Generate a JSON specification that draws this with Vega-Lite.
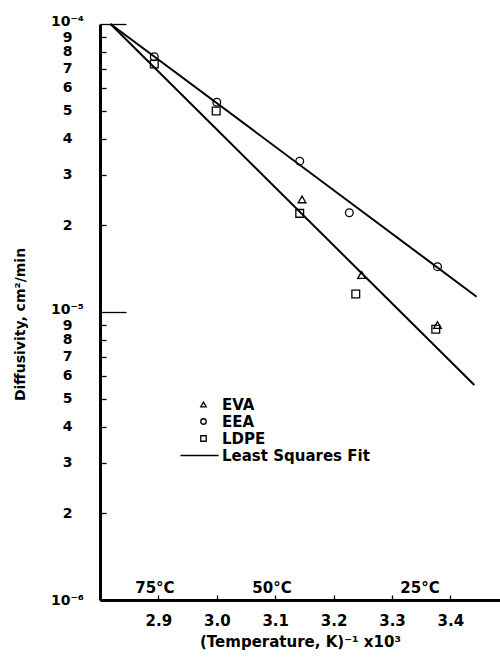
{
  "$schema": "https://vega.github.io/schema/vega-lite/v6.json",
  "width": 400,
  "height": 576,
  "autosize": {"type": "none"},
  "padding": {"left": 100, "top": 24, "right": 0, "bottom": 58},
  "background": "white",
  "config": {"view": {"stroke": null}, "font": "DejaVu Sans"},
  "datasets": {
    "points": [
      {"x": 2.893, "D": 7.70e-5, "material": "EEA"},
      {"x": 3.0, "D": 5.35e-5, "material": "EEA"},
      {"x": 3.142, "D": 3.34e-5, "material": "EEA"},
      {"x": 3.227, "D": 2.21e-5, "material": "EEA"},
      {"x": 3.378, "D": 1.437e-5, "material": "EEA"},
      {"x": 3.146, "D": 2.46e-5, "material": "EVA"},
      {"x": 3.248, "D": 1.344e-5, "material": "EVA"},
      {"x": 3.378, "D": 9.01e-6, "material": "EVA"},
      {"x": 2.893, "D": 7.26e-5, "material": "LDPE"},
      {"x": 2.999, "D": 4.99e-5, "material": "LDPE"},
      {"x": 3.142, "D": 2.20e-5, "material": "LDPE"},
      {"x": 3.238, "D": 1.155e-5, "material": "LDPE"},
      {"x": 3.375, "D": 8.71e-6, "material": "LDPE"}
    ],
    "fits": [
      {"x": 2.818, "D": 1.0e-4, "fit": "EEA"},
      {"x": 3.445, "D": 1.13e-5, "fit": "EEA"},
      {"x": 2.818, "D": 1.0e-4, "fit": "LDPE"},
      {"x": 3.441, "D": 5.58e-6, "fit": "LDPE"}
    ],
    "temps": [
      {"x": 2.894, "D": 1.03e-6, "label": "75°C"},
      {"x": 3.0945, "D": 1.03e-6, "label": "50°C"},
      {"x": 3.348, "D": 1.03e-6, "label": "25°C"}
    ]
  },
  "encoding": {
    "x": {
      "field": "x",
      "type": "quantitative",
      "scale": {"domain": [2.8, 3.485], "nice": false, "zero": false},
      "axis": {
        "values": [2.9, 3.0, 3.1, 3.2, 3.3, 3.4],
        "format": ".1f",
        "grid": false,
        "tickSize": -5,
        "tickColor": "black",
        "tickWidth": 1.3,
        "domainColor": "black",
        "domainWidth": 3,
        "labelFont": "DejaVu Sans",
        "labelFontSize": 15,
        "labelFontWeight": "bold",
        "labelColor": "black",
        "labelPadding": 18,
        "labelFlush": false,
        "labelOverlap": false,
        "title": "(Temperature, K)⁻¹ x10³",
        "titleFont": "DejaVu Sans",
        "titleFontSize": 15,
        "titleFontWeight": "bold",
        "titleColor": "black",
        "titlePadding": 6
      }
    },
    "y": {
      "field": "D",
      "type": "quantitative",
      "scale": {"type": "log", "domain": [1e-6, 1e-4], "nice": false},
      "axis": {
        "values": [1e-6, 2e-6, 3e-6, 4e-6, 5e-6, 6e-6, 7e-6, 8e-6, 9e-6, 1e-5, 2e-5, 3e-5, 4e-5, 5e-5, 6e-5, 7e-5, 8e-5, 9e-5, 1e-4],
        "labelExpr": "abs(datum.value-1e-4)<1e-9 ? '10⁻⁴' : abs(datum.value-1e-5)<1e-10 ? '10⁻⁵' : abs(datum.value-1e-6)<1e-11 ? '10⁻⁶' : format(datum.value/pow(10, floor(log(datum.value)/LN10+1e-9)), '.0f')",
        "grid": false,
        "tickSize": {"condition": {"test": "datum.value > 9.9e-5 || (datum.value > 9.9e-6 && datum.value < 1.01e-5)", "value": -26}, "value": -6},
        "labelPadding": {"condition": {"test": "datum.value > 9.9e-5 || (datum.value > 9.9e-6 && datum.value < 1.01e-5)", "value": 59}, "value": 39},
        "labelOffset": {"condition": {"test": "datum.value > 9.9e-5 || (datum.value > 9.9e-6 && datum.value < 1.01e-5)", "value": -3}, "value": 0},
        "tickColor": "black",
        "tickWidth": 1.3,
        "domainColor": "black",
        "domainWidth": 3,
        "labelFont": "DejaVu Sans",
        "labelFontSize": 14,
        "labelFontWeight": "bold",
        "labelColor": "black",
        "labelAlign": "center",
        "labelFlush": false,
        "labelOverlap": false,
        "labelBound": false,
        "title": "Diffusivity, cm²/min",
        "titleFont": "DejaVu Sans",
        "titleFontSize": 14,
        "titleFontWeight": "bold",
        "titleColor": "black",
        "titleAngle": -90,
        "titleX": -80,
        "titleY": 300,
        "titleAlign": "center",
        "titleBaseline": "middle"
      }
    }
  },
  "layer": [
    {
      "data": {"name": "fits"},
      "mark": {"type": "line", "color": "black", "strokeWidth": 2},
      "encoding": {"detail": {"field": "fit", "type": "nominal"}}
    },
    {
      "data": {"name": "points"},
      "mark": {"type": "point", "filled": false, "color": "black", "strokeWidth": 1.3, "size": 60, "opacity": 1},
      "encoding": {
        "shape": {
          "field": "material",
          "type": "nominal",
          "scale": {
            "domain": ["EVA", "EEA", "LDPE", "Least Squares Fit"],
            "range": ["triangle-up", "circle", "square", "M-8.4,0H5.5"]
          },
          "legend": {
            "title": null,
            "orient": "none",
            "legendX": 96,
            "legendY": 373,
            "padding": 0,
            "labelFont": "DejaVu Sans",
            "labelFontSize": 15,
            "labelFontWeight": "bold",
            "labelColor": "black",
            "labelOffset": 11,
            "rowPadding": 1,
            "symbolSize": 30,
            "symbolStrokeColor": "black",
            "symbolFillColor": "white",
            "symbolStrokeWidth": 1.3
          }
        }
      }
    },
    {
      "data": {"name": "temps"},
      "mark": {"type": "text", "font": "DejaVu Sans", "fontSize": 15, "fontWeight": "bold", "fill": "black", "baseline": "bottom", "align": "center"},
      "encoding": {
        "text": {"field": "label", "type": "nominal"}
      }
    }
  ]
}
